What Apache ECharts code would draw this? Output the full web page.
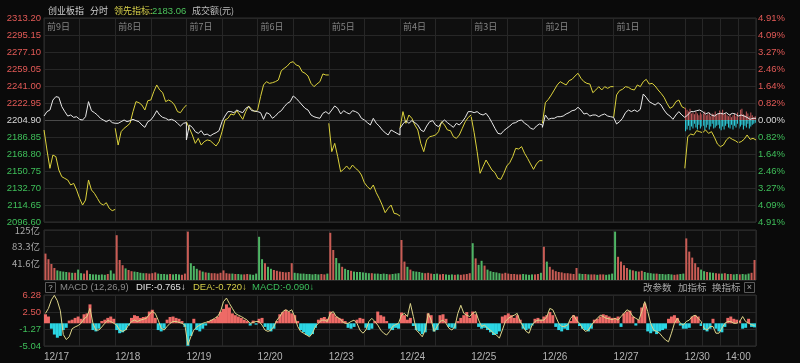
<!DOCTYPE html>
<html>
<head>
<meta charset="utf-8">
<script src="https://cdn.jsdelivr.net/npm/echarts@6.0.0/dist/echarts.min.js"></script>
<style>
html,body{margin:0;padding:0;background:#0a0a0a;}
#chart{width:800px;height:363px;}
</style>
</head>
<body>
<div id="chart"></div>
<script>
// ---------------- data ----------------
const BASE = 2204.90;
const dayLabels = ['前9日','前8日','前7日','前6日','前5日','前4日','前3日','前2日','前1日'];
const dateLabels = ['12/17','12/18','12/19','12/20','12/23','12/24','12/25','12/26','12/27','12/30'];
const timeLabel = '14:00';
const timeLabelMinutes = 180; // trading minutes after the open
const priceTicks = ['2096.60','2114.65','2132.70','2150.75','2168.80','2186.85','2204.90','2222.95','2241.00','2259.05','2277.10','2295.15','2313.20'];
const pctTicks = ['4.91%','4.09%','3.27%','2.46%','1.64%','0.82%','0.00%','0.82%','1.64%','2.46%','3.27%','4.09%','4.91%'];
const volTicks = ['', '41.6亿', '83.3亿', '125亿'];
const macdTicks = ['-5.04','-1.27','2.50','6.28'];

// index (white) per day, sampled every 10 minutes
const whiteLine = [
 [2209.1,2213.8,2215.5,2226.1,2229.7,2229.0,2219.1,2213.8,2209.1,2210.2,2207.7,2208.4,2205.6,2204.9,2208.4,2224.4,2214.8,2212.7,2210.2,2206.7,2204.9,2203.1,2204.9,2202.1,2201.4],
 [2201.4,2201.4,2203.1,2204.9,2203.1,2204.2,2205.6,2204.2,2203.1,2199.6,2197.1,2203.1,2204.9,2209.1,2214.8,2210.2,2207.7,2206.7,2204.9,2205.6,2204.2,2201.4,2198.5,2201.4,2202.1],
 [2183.7,2199.6,2197.1,2192.5,2190.7,2193.6,2189.0,2190.0,2187.9,2190.0,2191.4,2193.6,2203.1,2209.1,2213.8,2213.8,2212.7,2215.5,2213.8,2212.7,2217.3,2219.1,2214.8,2214.5,2213.8],
 [2213.8,2212.7,2205.6,2212.7,2211.3,2206.7,2209.1,2212.7,2214.8,2219.1,2222.6,2224.4,2230.4,2227.9,2224.4,2220.8,2217.3,2215.5,2210.2,2208.4,2207.4,2206.7,2212.0,2213.8,2211.3],
 [2211.3,2215.5,2219.8,2217.3,2211.3,2214.8,2212.7,2211.3,2214.8,2213.8,2212.0,2206.7,2204.9,2202.1,2199.6,2206.7,2201.4,2198.5,2194.3,2191.4,2189.0,2194.3,2192.5,2190.7,2189.0],
 [2196.1,2200.7,2204.2,2201.4,2204.2,2202.1,2199.6,2194.3,2192.5,2198.5,2203.1,2204.2,2199.6,2197.8,2202.1,2204.9,2202.1,2199.6,2197.1,2201.4,2199.6,2203.1,2207.7,2213.8,2213.8],
 [2213.8,2212.7,2213.8,2211.3,2210.2,2212.0,2207.7,2202.1,2196.1,2190.7,2190.0,2193.6,2196.1,2198.5,2201.4,2202.1,2204.2,2204.9,2201.4,2199.6,2196.1,2195.0,2198.5,2200.7,2199.6],
 [2197.1,2210.2,2205.6,2206.7,2206.7,2208.4,2208.4,2209.1,2211.3,2212.7,2214.8,2215.5,2218.4,2215.5,2211.3,2212.0,2209.1,2210.2,2210.2,2208.4,2210.2,2211.3,2209.1,2208.4,2207.7],
 [2207.7,2200.7,2203.1,2206.7,2212.7,2215.5,2213.8,2215.5,2213.8,2216.2,2232.5,2229.0,2224.4,2222.6,2220.8,2223.3,2220.8,2215.5,2211.3,2209.1,2205.6,2210.2,2213.8,2210.2,2207.7],
 [2206.7,2210.2,2213.8,2213.8,2214.8,2215.5,2213.8,2211.3,2212.7,2210.2,2209.1,2211.3,2212.0,2211.3,2212.7,2210.2,2212.0,2211.3,2209.1,2210.2,2209.1,2207.7,2205.6,2206.7,2206.7]
];

// leading indicator (yellow) per day
const yellowLine = [
 [2194.3,2173.0,2153.6,2167.7,2166.0,2151.8,2144.7,2142.9,2141.2,2135.9,2137.6,2130.6,2121.7,2114.6,2119.9,2141.2,2130.6,2127.0,2121.7,2116.4,2114.6,2117.1,2111.1,2108.6,2110.0],
 [2196.1,2178.3,2192.5,2196.1,2198.5,2201.4,2213.8,2224.4,2223.3,2220.8,2215.5,2225.4,2226.1,2235.0,2242.1,2236.8,2233.9,2224.4,2226.1,2224.4,2220.8,2213.8,2212.7,2217.3,2220.8],
 [2203.1,2196.1,2189.0,2180.1,2185.4,2178.3,2181.9,2183.7,2183.0,2180.1,2177.3,2181.9,2192.5,2204.9,2206.7,2211.3,2210.2,2214.8,2210.2,2205.6,2213.8,2219.8,2216.2,2213.8,2214.8],
 [2215.5,2229.7,2242.1,2245.6,2243.8,2244.5,2245.6,2247.4,2257.3,2259.8,2262.2,2265.8,2266.8,2263.3,2262.2,2256.2,2254.5,2251.6,2243.8,2240.3,2243.1,2245.6,2253.8,2252.7,2252.7],
 [2201.4,2171.3,2180.1,2166.0,2150.0,2152.5,2156.1,2152.5,2157.1,2153.6,2151.1,2146.5,2138.3,2134.1,2131.3,2135.9,2127.7,2121.7,2114.6,2106.5,2111.1,2114.6,2105.8,2105.1,2102.9],
 [2196.1,2213.8,2201.4,2210.2,2206.7,2199.6,2194.3,2180.1,2171.3,2183.7,2187.2,2187.9,2189.0,2192.5,2203.1,2199.6,2194.3,2193.6,2187.2,2185.4,2189.0,2196.1,2203.1,2207.7,2210.2],
 [2208.4,2191.4,2171.3,2148.3,2155.4,2162.4,2157.1,2151.8,2149.0,2142.9,2141.9,2148.3,2156.1,2159.6,2166.0,2174.8,2174.1,2176.6,2169.5,2164.2,2158.2,2152.5,2158.2,2161.7,2161.7],
 [2201.4,2223.3,2226.8,2231.5,2236.8,2242.1,2245.6,2243.8,2242.1,2246.7,2248.1,2251.6,2254.5,2249.2,2245.6,2243.8,2243.1,2233.9,2236.8,2240.3,2236.8,2240.3,2238.5,2240.3,2240.3],
 [2207.7,2231.5,2236.1,2237.5,2240.3,2239.6,2237.5,2236.8,2242.1,2240.3,2245.6,2248.1,2243.1,2243.8,2241.0,2236.8,2233.2,2229.0,2222.6,2217.3,2219.1,2224.4,2226.1,2219.1,2217.3],
 [2153.6,2187.2,2190.0,2189.0,2193.6,2192.5,2191.4,2194.3,2190.7,2192.5,2186.5,2179.4,2176.6,2178.3,2183.7,2186.5,2184.4,2183.0,2180.8,2181.9,2184.4,2189.0,2184.4,2185.4,2183.7]
];

// today's red / cyan strength bars (points above / below the base), every 5 minutes
const todayRed  = [13,11,9,12,7,8,6,9,7,5,8,6,7,9,5,6,8,4,7,6,9,5,7,10,8,11,6,7,5,4,6,3,5,7,4,8,5,11,12,6,5,9,7,4,8,5,3,4];
const todayCyan = [12,10,6,11,7,9,4,8,10,5,9,7,6,11,8,5,10,7,4,9,8,6,5,9,11,7,10,6,4,8,9,5,10,6,8,4,9,7,5,10,6,8,4,9,7,5,4,3];

// turnover (亿元), 10-minute buckets per day
const volume = [
 [66,52,40,30,24,22,21,20,19,18,18,26,17,16,24,15,14,14,13,14,13,15,24,16],
 [112,50,37,29,25,22,21,20,18,17,17,16,17,19,16,15,15,14,15,14,15,14,13,16],
 [121,42,35,28,24,21,19,18,17,17,16,18,24,17,16,16,15,15,14,14,15,14,13,16],
 [108,52,42,33,28,25,23,21,20,19,20,42,18,17,16,16,15,15,14,15,14,15,14,16],
 [118,75,55,42,33,28,25,23,21,20,20,19,18,17,17,16,16,15,16,15,14,15,16,17],
 [100,46,33,26,22,21,20,18,17,18,16,15,16,14,15,14,13,14,13,14,13,14,15,17],
 [92,54,38,48,36,26,22,20,19,17,16,18,16,15,15,14,14,15,14,13,14,14,15,18],
 [83,46,33,26,22,20,19,17,17,16,15,30,16,15,15,14,14,14,13,14,14,13,14,16],
 [121,58,46,37,30,26,24,22,21,23,20,18,17,16,16,15,15,14,15,14,13,14,15,16],
 [104,71,56,42,32,26,22,20,19,18,17,16,16,17,15,15,14,15,14,15,14,16,18,50]
];

// MACD histogram and signal line per day
const macdHist = [
 [2.0,1.5,-1.2,-2.5,-3.2,-2.8,-1.5,-1.0,0.6,0.8,1.2,1.5,1.0,2.0,2.2,4.2,-1.5,-1.8,-1.2,0.5,0.8,1.2,1.5,1.0],
 [-1.5,-2.2,-2.0,-1.5,-0.5,1.2,1.8,1.6,1.2,1.4,1.5,2.6,3.0,1.2,-1.5,-1.8,-1.2,0.8,1.4,1.5,1.2,1.0,0.5,-0.8],
 [-5.0,-2.8,1.0,-1.5,-1.8,-1.2,-0.5,0.5,0.8,1.0,1.5,2.6,3.2,4.2,3.5,2.2,1.8,1.5,1.2,0.8,0.5,-0.5,0.6,-0.3],
 [1.0,1.2,-0.8,-1.5,-1.8,-1.2,0.5,2.0,2.5,3.0,2.6,2.2,1.8,0.5,-1.5,-2.0,-2.6,-2.8,-2.4,-1.0,0.8,1.2,1.4,1.0],
 [2.6,2.2,1.5,1.2,1.0,0.5,-1.0,-1.2,-0.8,0.8,1.2,1.0,-1.0,-1.5,-1.2,0.5,2.6,1.8,1.5,0.5,-1.2,-1.5,-1.0,-1.2],
 [2.4,1.8,0.8,1.2,-0.6,-1.5,-1.8,-2.4,-2.0,2.2,1.8,-1.8,-1.5,1.8,2.0,1.0,-0.8,-1.0,-1.2,0.5,1.2,1.8,2.5,1.2],
 [2.6,2.0,-0.8,-1.2,-1.0,-1.5,-2.0,-2.6,-2.4,-1.8,1.5,1.8,2.2,1.8,1.2,1.8,0.8,-1.2,-1.5,-1.2,-0.5,1.0,1.2,0.8],
 [1.5,1.8,2.5,1.8,-0.8,-1.5,-1.8,-1.2,-1.5,0.5,1.8,1.5,-0.6,-1.2,-1.5,-1.8,-1.2,0.8,1.0,1.5,2.0,1.8,1.5,1.2],
 [1.2,1.5,-0.8,2.2,2.6,2.8,1.5,-0.5,0.8,3.5,4.4,-1.8,-2.2,-1.8,-2.4,-1.8,-1.5,-1.2,1.0,1.5,1.8,1.2,-0.5,-1.2],
 [-1.2,-1.0,1.5,1.8,1.5,-0.6,-1.5,-1.8,-1.2,1.0,-1.2,-1.8,-2.0,-0.8,1.2,1.5,1.0,0.8,0.6,-1.2,-1.0,1.0,-0.8,-0.9]
];
const macdLine = [
 [2.2,3.3,5.2,6.2,5.0,2.8,-2.5,-3.6,-3.0,-1.2,-0.8,-0.5,0.0,1.0,1.5,3.3,0.0,-1.5,-1.5,-0.8,0.0,0.6,0.4,0.0],
 [-0.4,-1.5,-1.8,-1.5,-0.4,0.4,0.7,0.4,0.7,0.9,1.1,2.0,2.6,2.2,0.7,-1.1,-1.5,-0.7,0.0,0.4,0.4,0.2,0.0,-0.4],
 [-4.8,-3.0,-1.5,-0.8,-0.4,0.0,0.2,0.4,0.7,1.1,1.5,2.6,4.8,5.6,4.4,3.3,2.2,1.8,1.5,1.1,0.7,0.0,0.2,0.4],
 [0.4,-0.4,-1.5,-1.8,-1.5,-0.7,0.7,1.5,2.6,3.0,2.6,3.0,1.5,-0.7,-1.8,-2.2,-2.6,-3.0,-2.2,-0.7,0.0,0.7,0.7,0.4],
 [2.2,2.6,1.5,1.1,0.4,0.0,0.0,0.4,0.7,0.0,-1.5,-2.2,-1.5,0.4,1.1,0.4,-0.4,-1.5,-2.2,-2.6,-1.8,-0.7,-0.3,0.0],
 [1.8,2.2,1.5,4.4,1.5,-1.5,-2.2,-3.0,-1.5,2.2,0.7,-1.8,-0.7,0.4,0.7,0.0,-1.1,-1.5,-0.7,2.2,4.0,2.2,1.8,1.5],
 [2.2,2.6,0.7,-0.7,-0.4,-1.1,-1.5,-2.2,-2.6,-3.3,-1.5,0.4,1.1,1.5,1.8,2.2,0.4,-0.7,-1.8,-2.2,-0.4,0.4,0.7,0.7],
 [0.7,1.5,3.3,3.0,1.5,0.0,-0.7,-0.7,-0.4,1.1,1.8,0.7,0.0,-1.1,-1.8,-1.5,-0.4,0.4,1.1,1.8,1.5,1.1,1.0,0.8],
 [1.1,0.7,1.5,2.2,3.0,2.6,1.5,1.1,0.7,2.6,4.8,2.6,0.0,-1.5,-1.8,-2.2,-3.0,-3.7,-4.1,-2.2,0.0,1.1,0.0,-0.4],
 [0.4,0.7,1.5,1.8,1.1,0.4,-1.1,-1.5,-0.7,-0.7,-2.2,-2.2,-1.1,0.0,0.4,0.4,0.0,0.0,0.4,1.5,0.4,0.0,-0.3,-0.5]
];

// ---------------- build ----------------
const DAY = 240, DAYS = 10, TOTAL = DAY * DAYS;
const RED = '#e35a57', GREEN = '#3fbf5a', GRIDC = '#272727', AXFONT = '"Liberation Sans", Arial, sans-serif', CJK = '"Noto Sans CJK SC", sans-serif';
const VRED = '#c95c55', VGREEN = '#4fb565', MRED = '#ee6a66', MCYAN = '#2bd6e4';

const whitePts = [];
whiteLine.forEach((day, d) => day.forEach((v, i) => whitePts.push([d * DAY + i * DAY / (day.length - 1), v])));

const yellowSeries = yellowLine.map((day, d) => ({
  type: 'line', xAxisIndex: 0, yAxisIndex: 0, showSymbol: false, silent: true, z: 4,
  lineStyle: { color: '#dcd23c', width: 1 },
  data: day.map((v, i) => [d * DAY + i * DAY / (day.length - 1), v])
}));

const volPts = [];
volume.forEach((day, d) => day.forEach((v, i) => {
  const w = whiteLine[d];
  const up = w[i + 1] >= w[i];
  volPts.push({ value: [d * DAY + (i + 0.5) * DAY / day.length, v], itemStyle: { color: up ? VRED : VGREEN } });
}));

const histPts = [], linePts = [];
macdHist.forEach((day, d) => day.forEach((v, i) => {
  histPts.push({ value: [d * DAY + (i + 0.5) * DAY / day.length, v], itemStyle: { color: v >= 0 ? MRED : MCYAN } });
}));
macdLine.forEach((day, d) => day.forEach((v, i) => linePts.push([d * DAY + (i + 0.5) * DAY / day.length, v])));

const todayStart = (DAYS - 1) * DAY;
const redPts = todayRed.map((v, i) => [todayStart + (i + 0.5) * DAY / todayRed.length, v]);
const cyanPts = todayCyan.map((v, i) => [todayStart + (i + 0.5) * DAY / todayCyan.length, -v]);

const hourLines = [todayStart + 60, todayStart + 180];
function hourMark() {
  return { silent: true, symbol: 'none', label: { show: false },
    lineStyle: { color: GRIDC, type: 'solid', width: 1 },
    data: hourLines.map(x => ({ xAxis: x })) };
}

const splitColors = priceTicks.map((t, i) => i === 6 ? '#4a4a4a' : GRIDC);

function xBase(gi, extra) {
  return Object.assign({ gridIndex: gi, type: 'value', min: 0, max: TOTAL, interval: 120,
    axisLine: { show: false }, axisTick: { show: false }, axisLabel: { show: false },
    splitLine: { show: true, lineStyle: { color: GRIDC } } }, extra || {});
}

const option = {
  backgroundColor: '#0a0a0a',
  animation: false,
  grid: [
    { left: 44, right: 44, top: 18, height: 204, show: true, borderColor: '#2e2e2e', backgroundColor: '#0f0f0f' },
    { left: 44, right: 44, top: 230, height: 50, show: true, borderColor: '#2e2e2e', backgroundColor: '#0f0f0f' },
    { left: 44, right: 44, top: 295, height: 51, show: true, borderColor: '#2e2e2e', backgroundColor: '#0f0f0f' }
  ],
  xAxis: [
    xBase(0),
    { gridIndex: 0, type: 'value', position: 'top', min: 0, max: TOTAL, interval: DAY,
      axisLine: { show: false }, axisTick: { show: false }, splitLine: { show: false },
      axisLabel: { inside: true, align: 'left', margin: 4, color: '#858585', fontSize: 9, fontFamily: CJK,
        padding: [0, 0, 0, 3], formatter: v => dayLabels[Math.round(v / DAY)] || '' } },
    xBase(1),
    xBase(2, { axisLabel: { show: true, align: 'left', margin: 6, color: '#b4b4b4', fontSize: 10, fontFamily: AXFONT,
      formatter: v => (v % DAY === 0 ? (dateLabels[v / DAY] || '') : '') } }),
    { gridIndex: 2, type: 'value', position: 'bottom', min: 0, max: TOTAL, interval: 60,
      axisLine: { show: false }, axisTick: { show: false }, splitLine: { show: false },
      axisLabel: { show: true, align: 'center', margin: 6, color: '#b4b4b4', fontSize: 10, fontFamily: AXFONT,
        formatter: v => (v === todayStart + timeLabelMinutes ? timeLabel : '') } }
  ],
  yAxis: [
    { gridIndex: 0, type: 'value', min: 2096.6, max: 2313.2, show: false },
    { gridIndex: 0, type: 'value', min: 0, max: 12, interval: 1, position: 'left',
      axisLine: { show: false }, axisTick: { show: false },
      splitLine: { show: true, lineStyle: { color: splitColors } },
      axisLabel: { margin: 3, fontSize: 9.5, fontFamily: AXFONT,
        formatter: v => priceTicks[v], color: v => (v > 6 ? RED : v < 6 ? GREEN : '#d8d8d8') } },
    { gridIndex: 0, type: 'value', min: 0, max: 12, interval: 1, position: 'right',
      axisLine: { show: false }, axisTick: { show: false }, splitLine: { show: false },
      axisLabel: { margin: 2, fontSize: 9.5, fontFamily: AXFONT,
        formatter: v => pctTicks[v], color: v => (v > 6 ? RED : v < 6 ? GREEN : '#d8d8d8') } },
    { gridIndex: 0, type: 'value', min: -108.3, max: 108.3, show: false },
    { gridIndex: 1, type: 'value', min: 0, max: 125, show: false },
    { gridIndex: 1, type: 'value', min: 0, max: 3, interval: 1, position: 'left',
      axisLine: { show: false }, axisTick: { show: false },
      splitLine: { show: true, lineStyle: { color: GRIDC } },
      axisLabel: { margin: 4, fontSize: 9.5, fontFamily: CJK, color: '#a8a8a8', formatter: v => volTicks[v] } },
    { gridIndex: 2, type: 'value', min: -5.04, max: 6.28, show: false },
    { gridIndex: 2, type: 'value', min: 0, max: 3, interval: 1, position: 'left',
      axisLine: { show: false }, axisTick: { show: false },
      splitLine: { show: true, lineStyle: { color: GRIDC } },
      axisLabel: { margin: 3, fontSize: 9.5, fontFamily: AXFONT, formatter: v => macdTicks[v],
        color: v => (v >= 2 ? RED : GREEN) } }
  ],
  series: [
    { type: 'line', xAxisIndex: 0, yAxisIndex: 0, data: [], silent: true, markLine: hourMark(), z: 1 },
    { type: 'bar', xAxisIndex: 0, yAxisIndex: 3, data: redPts, barWidth: 1, barGap: '-100%', silent: true,
      itemStyle: { color: '#c4585a' }, z: 2 },
    { type: 'bar', xAxisIndex: 0, yAxisIndex: 3, data: cyanPts, barWidth: 1, barGap: '-100%', silent: true,
      itemStyle: { color: '#2fd0de' }, z: 2 },
    ...yellowSeries,
    { type: 'line', xAxisIndex: 0, yAxisIndex: 0, data: whitePts, showSymbol: false, silent: true, z: 5,
      lineStyle: { color: '#e8e8e8', width: 1 } },
    { type: 'line', xAxisIndex: 2, yAxisIndex: 4, data: [], silent: true, markLine: hourMark(), z: 1 },
    { type: 'bar', xAxisIndex: 2, yAxisIndex: 4, data: volPts, barWidth: 2, silent: true, z: 2 },
    { type: 'line', xAxisIndex: 3, yAxisIndex: 6, data: [], silent: true, markLine: hourMark(), z: 1 },
    { type: 'bar', xAxisIndex: 3, yAxisIndex: 6, data: histPts, barWidth: 3, silent: true, z: 2 },
    { type: 'line', xAxisIndex: 3, yAxisIndex: 6, data: linePts, showSymbol: false, silent: true, z: 4,
      lineStyle: { color: '#ddd58a', width: 1 } }
  ],
  graphic: [
    { type: 'text', x: 48, y: 11, style: { text: '创业板指', fill: '#cfcfcf', font: '9px ' + CJK, verticalAlign: 'middle' } },
    { type: 'text', x: 90, y: 11, style: { text: '分时', fill: '#cfcfcf', font: '9px ' + CJK, verticalAlign: 'middle' } },
    { type: 'text', x: 114, y: 11, style: { text: '领先指标:', fill: '#d6cf4a', font: '9px ' + CJK, verticalAlign: 'middle' } },
    { type: 'text', x: 152, y: 11, style: { text: '2183.06', fill: '#4cc25c', font: '9.5px ' + AXFONT, verticalAlign: 'middle' } },
    { type: 'text', x: 192, y: 11, style: { text: '成交额(元)', fill: '#bdbdbd', font: '9px ' + CJK, verticalAlign: 'middle' } },
    { type: 'rect', shape: { x: 45.5, y: 282.5, width: 10, height: 10 }, style: { fill: 'none', stroke: '#5a5a5a', lineWidth: 1 } },
    { type: 'text', x: 50.5, y: 287.5, style: { text: '?', fill: '#bdbdbd', font: '8px ' + AXFONT, align: 'center', verticalAlign: 'middle' } },
    { type: 'text', x: 60, y: 287.5, style: { text: 'MACD (12,26,9)', fill: '#8c8c8c', font: '9.5px ' + AXFONT, verticalAlign: 'middle' } },
    { type: 'text', x: 136, y: 287.5, style: { text: 'DIF:-0.765↓', fill: '#e2e2e2', font: '9.5px ' + AXFONT, verticalAlign: 'middle' } },
    { type: 'text', x: 193, y: 287.5, style: { text: 'DEA:-0.720↓', fill: '#d6cf4a', font: '9.5px ' + AXFONT, verticalAlign: 'middle' } },
    { type: 'text', x: 252, y: 287.5, style: { text: 'MACD:-0.090↓', fill: '#3cbf5c', font: '9.5px ' + AXFONT, verticalAlign: 'middle' } },
    { type: 'text', x: 643, y: 287.5, style: { text: '改参数', fill: '#a8a8a8', font: '9.5px ' + CJK, verticalAlign: 'middle' } },
    { type: 'text', x: 678, y: 287.5, style: { text: '加指标', fill: '#a8a8a8', font: '9.5px ' + CJK, verticalAlign: 'middle' } },
    { type: 'text', x: 712, y: 287.5, style: { text: '换指标', fill: '#a8a8a8', font: '9.5px ' + CJK, verticalAlign: 'middle' } },
    { type: 'rect', shape: { x: 744.5, y: 282.5, width: 10, height: 10 }, style: { fill: 'none', stroke: '#5a5a5a', lineWidth: 1 } },
    { type: 'text', x: 749.5, y: 287.5, style: { text: '×', fill: '#a8a8a8', font: '9px ' + AXFONT, align: 'center', verticalAlign: 'middle' } }
  ]
};

const chart = echarts.init(document.getElementById('chart'), null, { renderer: 'canvas' });
chart.setOption(option);
</script>
</body>
</html>
